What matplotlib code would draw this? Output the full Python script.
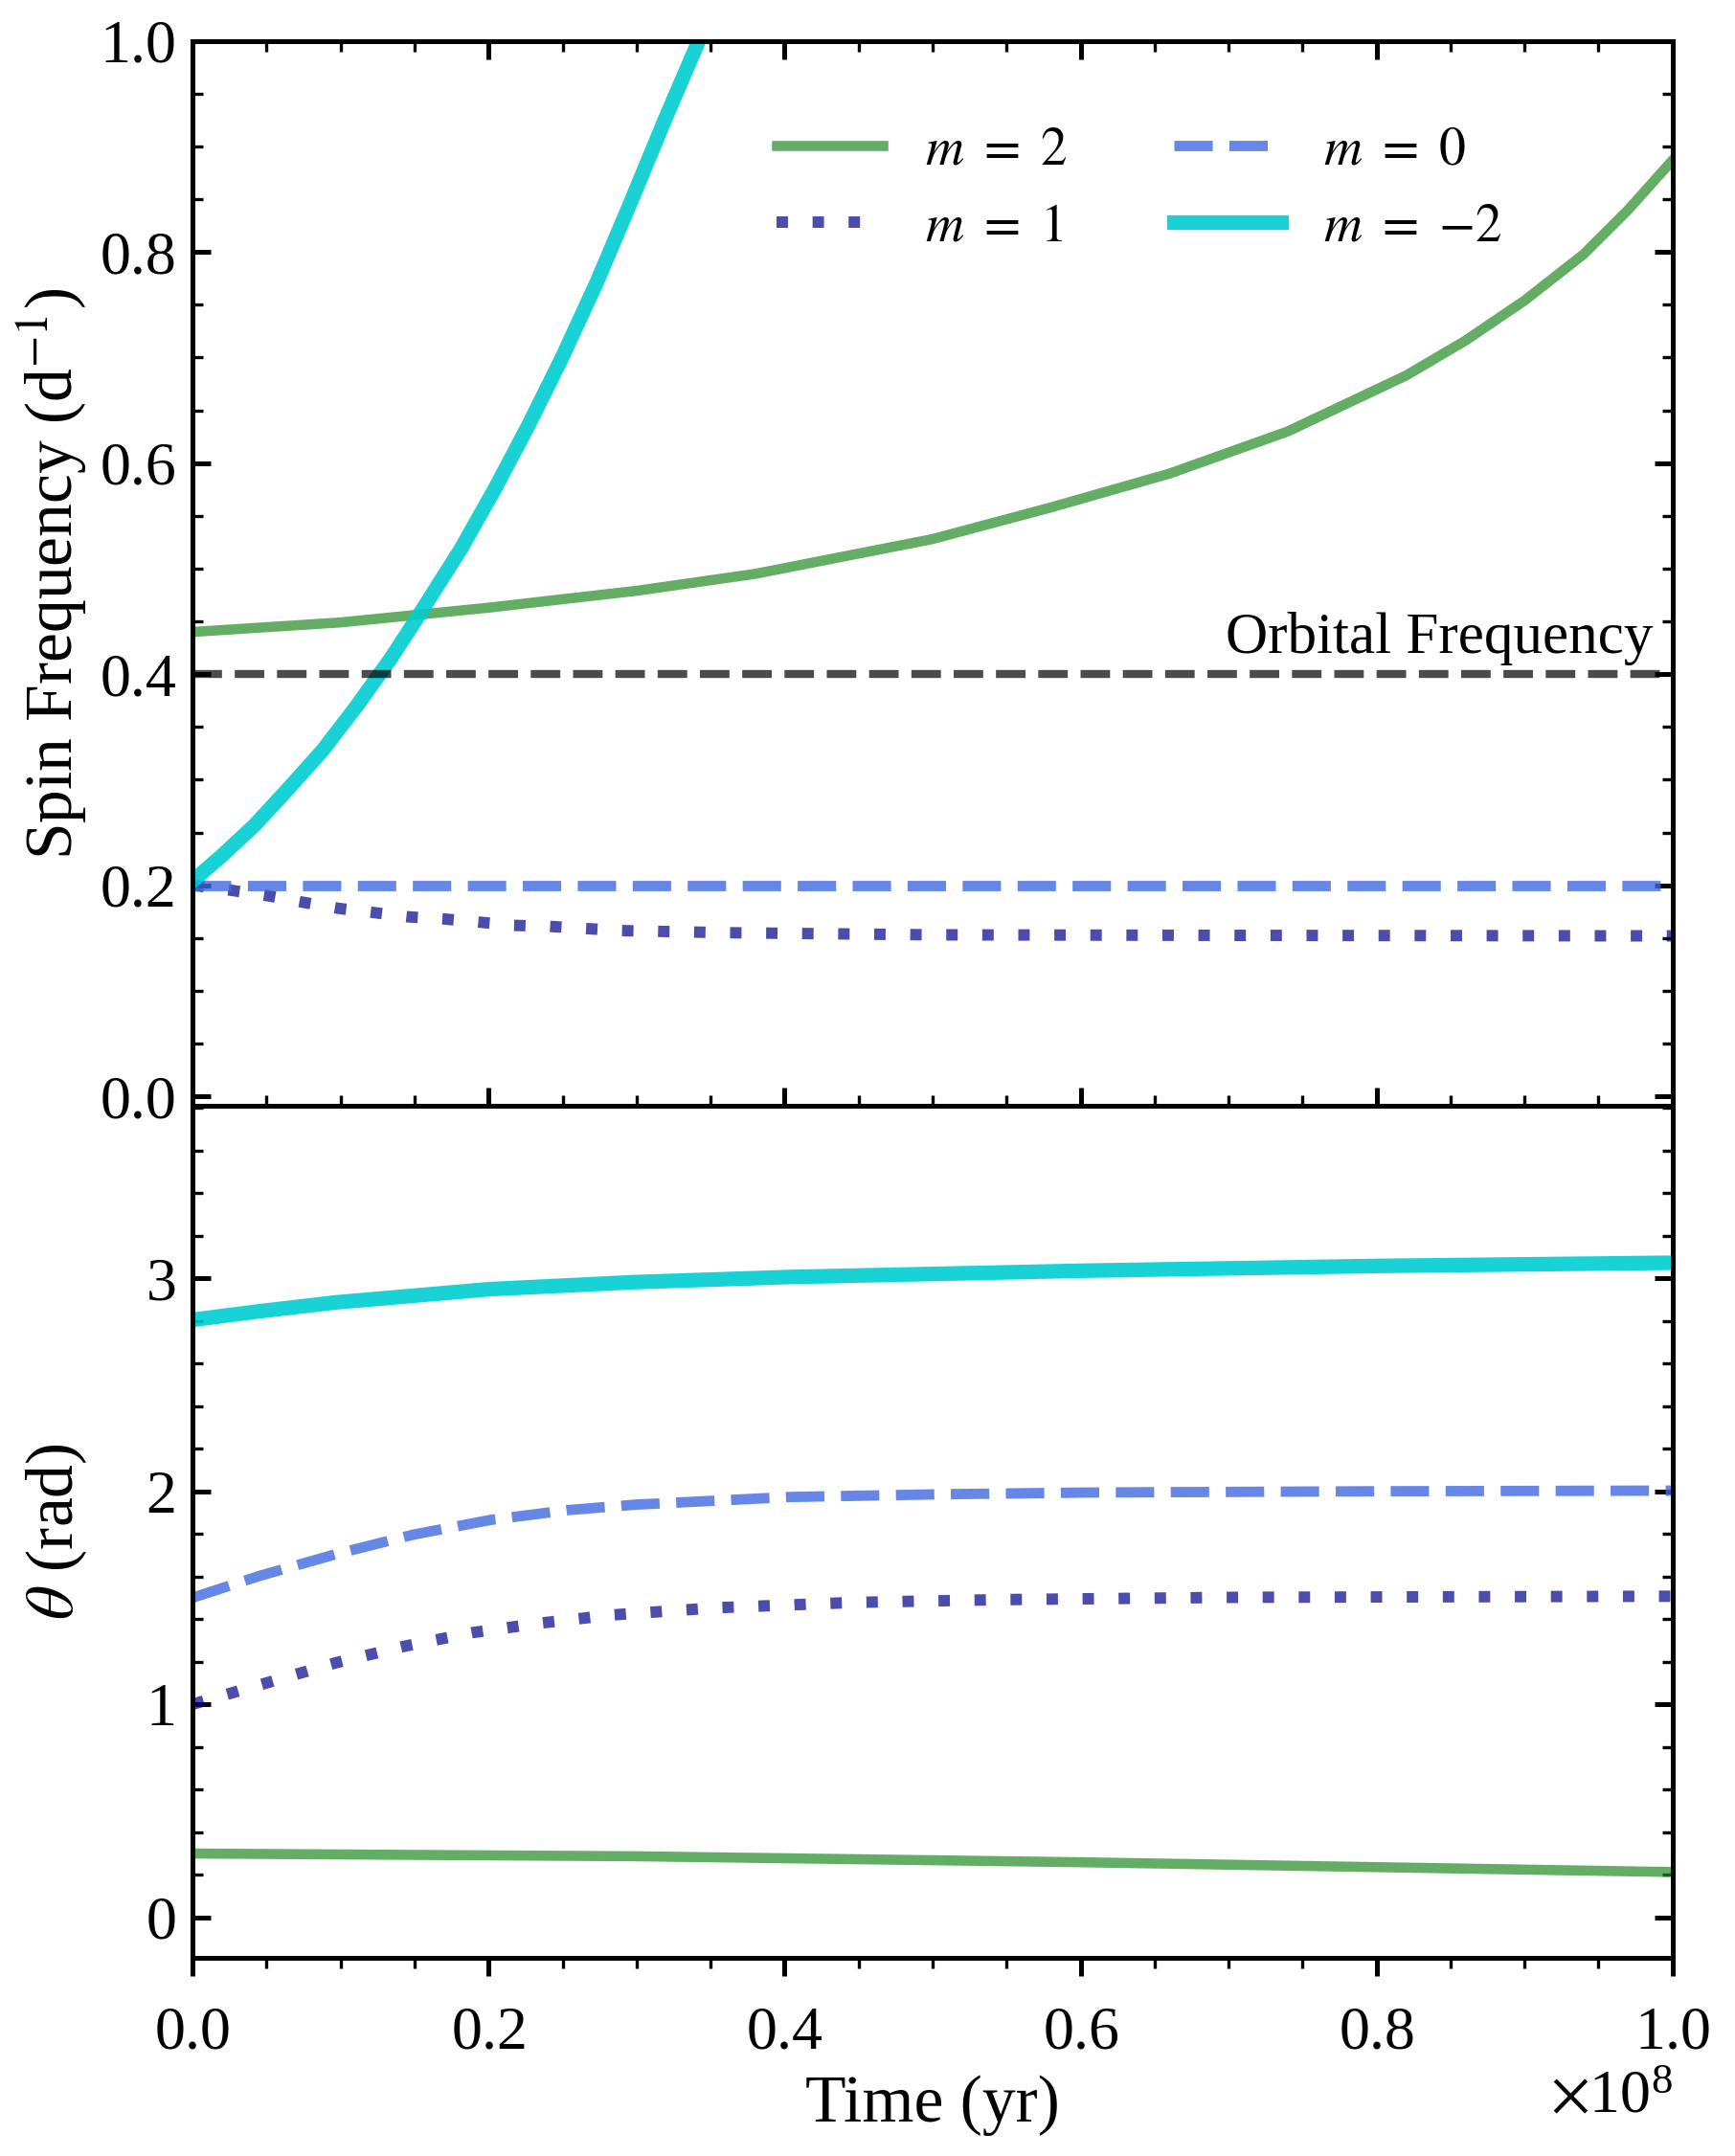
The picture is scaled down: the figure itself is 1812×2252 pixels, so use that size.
import numpy as np
import matplotlib
matplotlib.use("Agg")
import matplotlib.pyplot as plt
from matplotlib.ticker import MultipleLocator, ScalarFormatter

plt.rcParams['font.family'] = 'serif'
plt.rcParams['font.serif'] = ['Liberation Serif', 'DejaVu Serif']
plt.rcParams['mathtext.fontset'] = 'stix'

# --- spin frequency (top panel), time in units of 1e8 yr ---
t_f_m2 = [0.0, 0.1, 0.2, 0.3, 0.38, 0.50, 0.58, 0.66, 0.74, 0.82, 0.86, 0.90, 0.94, 0.97, 1.0]
f_m2 = [0.440, 0.449, 0.463, 0.479, 0.495, 0.528, 0.558, 0.590, 0.630, 0.683, 0.716, 0.754, 0.798, 0.840, 0.887]

t_f_m1 = [0.0, 0.027, 0.051, 0.074, 0.099, 0.123, 0.146, 0.170, 0.194, 0.217, 0.241, 0.289, 0.361, 0.5, 0.7, 1.0]
f_m1 = [0.200, 0.195, 0.190, 0.184, 0.178, 0.174, 0.170, 0.168, 0.165, 0.162, 0.161, 0.157, 0.155, 0.153, 0.1525, 0.152]

t_f_m0 = [0.0, 1.0]
f_m0 = [0.200, 0.200]

t_f_mm2 = [0.0, 0.019, 0.042, 0.065, 0.088, 0.111, 0.134, 0.153, 0.181, 0.204,
           0.227, 0.250, 0.273, 0.296, 0.319, 0.342, 0.36]
f_mm2 = [0.204, 0.227, 0.257, 0.292, 0.328, 0.370, 0.415, 0.456, 0.518, 0.575,
         0.636, 0.701, 0.771, 0.847, 0.925, 1.000, 1.06]

f_orb = 0.4

# --- obliquity theta (bottom panel) ---
t_th_m2 = [0.0, 0.3, 0.6, 0.8, 1.0]
th_m2 = [0.299, 0.286, 0.258, 0.235, 0.212]

t_th_m1 = [0.0, 0.048, 0.097, 0.143, 0.189, 0.234, 0.283, 0.354, 0.447, 0.545, 0.706, 1.0]
th_m1 = [1.000, 1.096, 1.195, 1.272, 1.336, 1.380, 1.419, 1.453, 1.478, 1.491, 1.502, 1.507]

t_th_m0 = [0.0, 0.045, 0.097, 0.149, 0.201, 0.253, 0.299, 0.403, 0.507, 0.605, 0.801, 1.0]
th_m0 = [1.500, 1.602, 1.705, 1.796, 1.865, 1.911, 1.937, 1.973, 1.986, 1.994, 2.000, 2.003]

t_th_mm2 = [0.0, 0.045, 0.097, 0.201, 0.299, 0.403, 0.605, 0.801, 1.0]
th_mm2 = [2.805, 2.845, 2.887, 2.949, 2.982, 3.006, 3.036, 3.058, 3.073]

labels = [r'$m\ =\ 2$', r'$m\ =\ 1$', r'$m\ =\ 0$', r'$m\ =\ {-2}$']

yr = 1e8

fig = plt.figure(figsize=(9.06, 11.26), dpi=200)
gs = fig.add_gridspec(2, 1, height_ratios=[5, 4], hspace=0,
                      left=0.111, right=0.964, top=0.981, bottom=0.092)
ax1 = fig.add_subplot(gs[0])
ax2 = fig.add_subplot(gs[1], sharex=ax1)

# styles: green solid, blue dotted, royal blue dashed, turquoise thick
s_m2 = dict(color='forestgreen', alpha=0.7, lw=3.8)
s_m1 = dict(color='darkblue', alpha=0.7, lw=4.3, dashes=(1, 2.15))
s_m0 = dict(color='royalblue', alpha=0.8, lw=3.9, ls='--')
s_mm2 = dict(color='darkturquoise', alpha=0.9, lw=5.5)

ax1.plot(np.array(t_f_m2) * yr, f_m2, label=labels[0], **s_m2)
ax1.plot(np.array(t_f_m1) * yr, f_m1, label=labels[1], **s_m1)
ax1.plot(np.array(t_f_m0) * yr, f_m0, label=labels[2], **s_m0)
ax1.plot(np.array(t_f_mm2) * yr, f_mm2, label=labels[3], **s_mm2)
ax1.axhline(f_orb, color='k', alpha=0.7, lw=3, ls='--')
ax1.text(0.987 * yr, 0.42, 'Orbital Frequency', ha='right', va='baseline', fontsize=22)

ax2.plot(np.array(t_th_m2) * yr, th_m2, **s_m2)
ax2.plot(np.array(t_th_m1) * yr, th_m1, **s_m1)
ax2.plot(np.array(t_th_m0) * yr, th_m0, **s_m0)
ax2.plot(np.array(t_th_mm2) * yr, th_mm2, **s_mm2)

ax1.set_xlim(0, yr)
ax1.set_ylim(-0.009, 1.0)
ax2.set_ylim(-0.19, 3.81)

ax1.legend(loc='upper left', bbox_to_anchor=(0.38, 0.94), borderaxespad=0,
           ncol=2, frameon=False, fontsize=20, handlelength=2.0,
           handletextpad=0.8, columnspacing=2.0, labelspacing=0.5)

ax1.set_ylabel('Spin Frequency (d$^{-1}$)', fontsize=25)
ax2.set_ylabel(r'$\theta$ (rad)', fontsize=25)
ax2.set_xlabel('Time (yr)', fontsize=25, labelpad=5)

ax1.xaxis.set_major_locator(MultipleLocator(0.2 * yr))
ax1.xaxis.set_minor_locator(MultipleLocator(0.05 * yr))
ax1.yaxis.set_major_locator(MultipleLocator(0.2))
ax1.yaxis.set_minor_locator(MultipleLocator(0.05))
ax2.yaxis.set_major_locator(MultipleLocator(1))
ax2.yaxis.set_minor_locator(MultipleLocator(0.2))
fmt = ScalarFormatter(useMathText=True)
ax2.xaxis.set_major_formatter(fmt)

for ax in (ax1, ax2):
    for sp in ax.spines.values():
        sp.set_linewidth(1.8)
    ax.tick_params(which='major', length=6.8, width=1.8, labelsize=23)
    ax.tick_params(which='minor', length=4.1, width=1.2)
    ax.tick_params(axis='y', which='both', direction='in', left=True, right=True, pad=6)

ax1.tick_params(axis='x', which='both', direction='in', top=True, bottom=True, labelbottom=False)
ax2.tick_params(axis='x', which='both', direction='out', top=False, bottom=True, pad=11.5)
ax2.xaxis.get_offset_text().set_fontsize(23)

fig.align_ylabels([ax1, ax2])
fig.savefig('out.png', dpi=200)
